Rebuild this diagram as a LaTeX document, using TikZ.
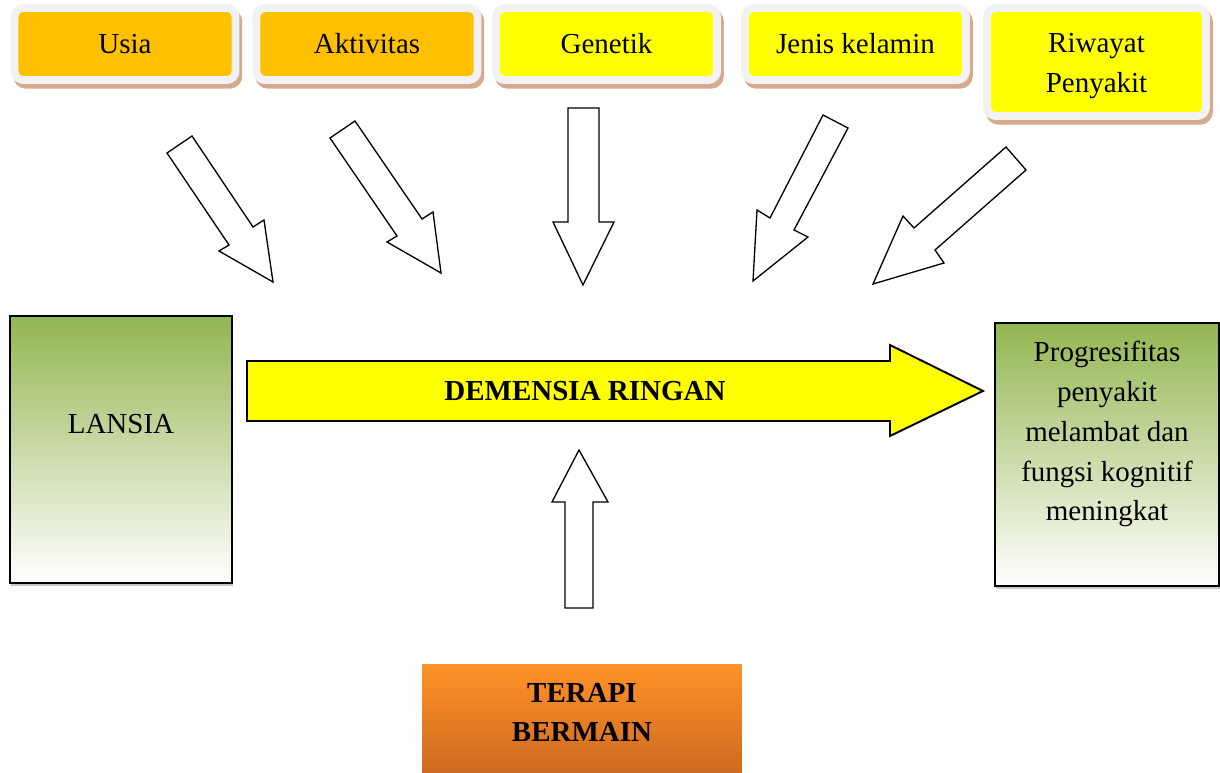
\documentclass[tikz,border=0pt]{standalone}
\usepackage{fontspec}
\setmainfont{Liberation Serif}
\usetikzlibrary{shadows}

\definecolor{boxorange}{RGB}{255,192,0}
\definecolor{boxyellow}{RGB}{255,255,0}
\definecolor{framegray}{RGB}{242,242,242}
\definecolor{shadowtan}{RGB}{214,170,140}
\definecolor{leafgreen}{RGB}{146,182,80}
\definecolor{playtop}{RGB}{255,146,40}
\definecolor{playbot}{RGB}{206,106,32}

\tikzset{
    factor/.style={draw=framegray, line width=4.5pt, rounded corners=5pt,
        minimum width=4.42cm, minimum height=1.44cm, align=center,
        preaction={draw=shadowtan, fill=shadowtan,
            transform canvas={shift={(1.6pt,-2.7pt)}}}},
    panel/.style={draw=black, line width=0.8pt, top color=leafgreen,
        middle color=leafgreen!40, bottom color=white,
        drop shadow={shadow xshift=0.6pt, shadow yshift=-2pt, fill=black!22, opacity=1}},
    hollow/.style={draw=black, line width=0.75pt, fill=white, line join=miter},
    bigarrow/.style={draw=black, line width=1.1pt, fill=boxyellow, line join=miter}
}

\begin{document}
\begin{tikzpicture}[x=0.02cm, y=-0.02cm, font=\fontsize{16.5}{22.7}\selectfont]
            \useasboundingbox (0,0) rectangle (1220,773);

            \foreach \n/\x/\c/\t in {usia/125/boxorange/Usia, aktivitas/367/boxorange/Aktivitas,
                    genetik/606.5/boxyellow/Genetik, jenis/855.5/boxyellow/Jenis kelamin} {
                \node[factor, fill=\c] (\n) at (\x, 44) {\t};
            }
            \node[factor, fill=boxyellow, minimum width=4.38cm, minimum height=2.16cm,
                label={[yshift=-2.3pt, align=center]center:{Riwayat\\Penyakit}}] (riwayat)
                at (1096.5, 62) {};

            \draw[hollow] (167,153) -- (192,136) -- (253,227) -- (264,220) -- (273,282) -- (219,251) -- (229,245) -- cycle;
            \draw[hollow] (330,138) -- (355,121) -- (422,219) -- (433,212) -- (441,273) -- (387,242) -- (397,236) -- cycle;
            \draw[hollow] (568,108) -- (599,108) -- (599,222) -- (614,222) -- (583,285) -- (553,222) -- (568,222) -- cycle;
            \draw[hollow] (823,115) -- (848,128) -- (794,230) -- (808,237) -- (753,281) -- (757,210) -- (770,218) -- cycle;
            \draw[hollow] (1006,147) -- (1026,170) -- (935,250) -- (944,263) -- (873,284) -- (903,216) -- (914,228) -- cycle;

            \node[panel, minimum width=4.44cm, minimum height=5.34cm,
                label={[yshift=14.5pt]center:LANSIA}] (lansia) at (121, 449.5) {};
            \node[panel, minimum width=4.48cm, minimum height=5.26cm,
                label={[yshift=11.6pt, align=center]center:{Progresifitas\\penyakit\\melambat dan\\fungsi kognitif\\meningkat}}]
                (hasil) at (1107, 454.5) {};

            \draw[bigarrow] (247,361) -- (890,361) -- (890,345) -- (983,391) -- (890,436) -- (890,421) -- (247,421) -- cycle;
            \node[font=\fontsize{16.5}{22.7}\selectfont\bfseries] (demensia) at (585, 391) {DEMENSIA RINGAN};

            \draw[hollow] (565,608) -- (593,608) -- (593,502) -- (608,502) -- (579,450) -- (552,502) -- (565,502) -- cycle;

            \node[top color=playtop, bottom color=playbot, minimum width=6.4cm, minimum height=2.18cm,
                label={[yshift=3.4pt, align=center, font=\fontsize{16.5}{22.7}\selectfont\bfseries]center:{TERAPI\\BERMAIN}}]
                (terapi) at (582, 718.5) {};

        \end{tikzpicture}
\end{document}
